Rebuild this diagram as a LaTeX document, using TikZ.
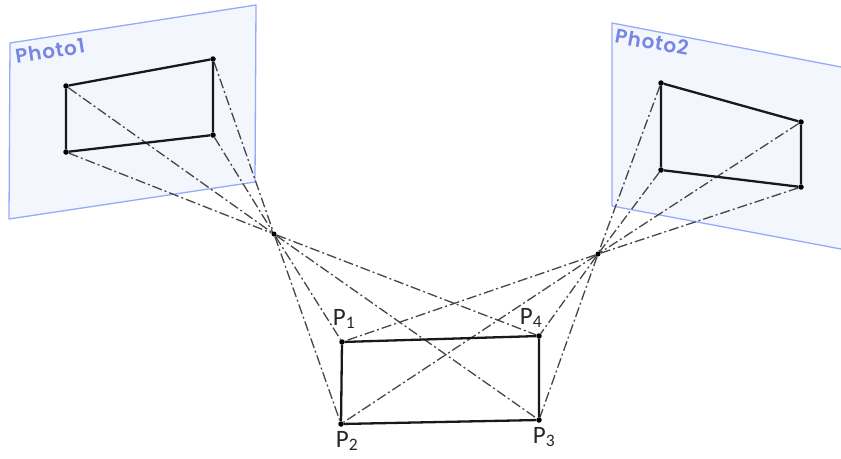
\documentclass[tikz,border=0pt]{standalone}
\usepackage{fontspec}
\setmainfont{Carlito}
\newfontfamily\photofont[LetterSpace=4]{Poppins SemiBold}
\definecolor{photoline}{RGB}{150,170,250}
\definecolor{photofill}{RGB}{244,246,253}
\definecolor{phototext}{RGB}{118,134,226}
\definecolor{rayline}{RGB}{70,70,70}
\begin{document}
\begin{tikzpicture}[x=1pt,y=-1pt,
    plane/.style={draw=photoline,fill=photofill,line width=1.3pt,line join=round},
    edge/.style={line width=2.3pt,black!90,line join=round},
    ray/.style={dash pattern=on 10pt off 3pt on 2pt off 3pt,line width=1.3pt,rayline},
    dot/.style={circle,fill=black,inner sep=0pt,minimum size=5.5pt},
    eye/.style={circle,fill=black,inner sep=0pt,minimum size=5pt},
    photo/.style={phototext,font=\photofont\fontsize{20}{20}\selectfont,inner sep=0pt},
    lab/.style={black!85,font=\fontsize{25}{25}\selectfont,inner sep=0pt}]
    \useasboundingbox (0,0) rectangle (841,458);
    % image planes
    \draw[plane] (10,43) -- (256,5) -- (255,182) -- (9,219) -- cycle;
    \fill[photofill] (612,23) -- (841,67) -- (841,249) -- (612,206) -- cycle;
    \draw[plane,fill=none] (841,67) -- (612,23) -- (612,206) -- (841,249);
    \node[photo,rotate=9] (photoa) at (50,51) {Photo1};
    \node[photo,rotate=-10] (photob) at (652,42) {Photo2};
    % corners
    \node[dot] (a1) at (66,86) {};
    \node[dot] (a2) at (66,152) {};
    \node[dot] (a3) at (213,135) {};
    \node[dot] (a4) at (213,59) {};
    \node[dot] (b1) at (661,83) {};
    \node[dot] (b2) at (661,170) {};
    \node[dot] (b3) at (801,187) {};
    \node[dot] (b4) at (801,122) {};
    \node[dot] (p1) at (342,342) {};
    \node[dot] (p2) at (341,424) {};
    \node[dot] (p3) at (539,420) {};
    \node[dot] (p4) at (539,336) {};
    \node[eye] (ca) at (274,234) {};
    \node[eye] (cb) at (598,254) {};
    % rays
    \draw[ray] (a1) -- (ca) -- (p3);
    \draw[ray] (a2) -- (ca) -- (p4);
    \draw[ray] (a3) -- (ca) -- (p1);
    \draw[ray] (a4) -- (ca) -- (p2);
    \draw[ray] (b1) -- (cb) -- (p3);
    \draw[ray] (b2) -- (cb) -- (p4);
    \draw[ray] (b3) -- (cb) -- (p1);
    \draw[ray] (b4) -- (cb) -- (p2);
    % rectangles
    \draw[edge] (a1) -- (a2) -- (a3) -- (a4) -- (a1);
    \draw[edge] (b1) -- (b2) -- (b3) -- (b4) -- (b1);
    \draw[edge] (p1) -- (p2) -- (p3) -- (p4) -- (p1);
    \node[lab] (la) at (344,319) {P\textsubscript{1}};
    \node[lab] (lb) at (347,441) {P\textsubscript{2}};
    \node[lab] (lc) at (544,437) {P\textsubscript{3}};
    \node[lab] (ld) at (531,318) {P\textsubscript{4}};
\end{tikzpicture}
\end{document}
